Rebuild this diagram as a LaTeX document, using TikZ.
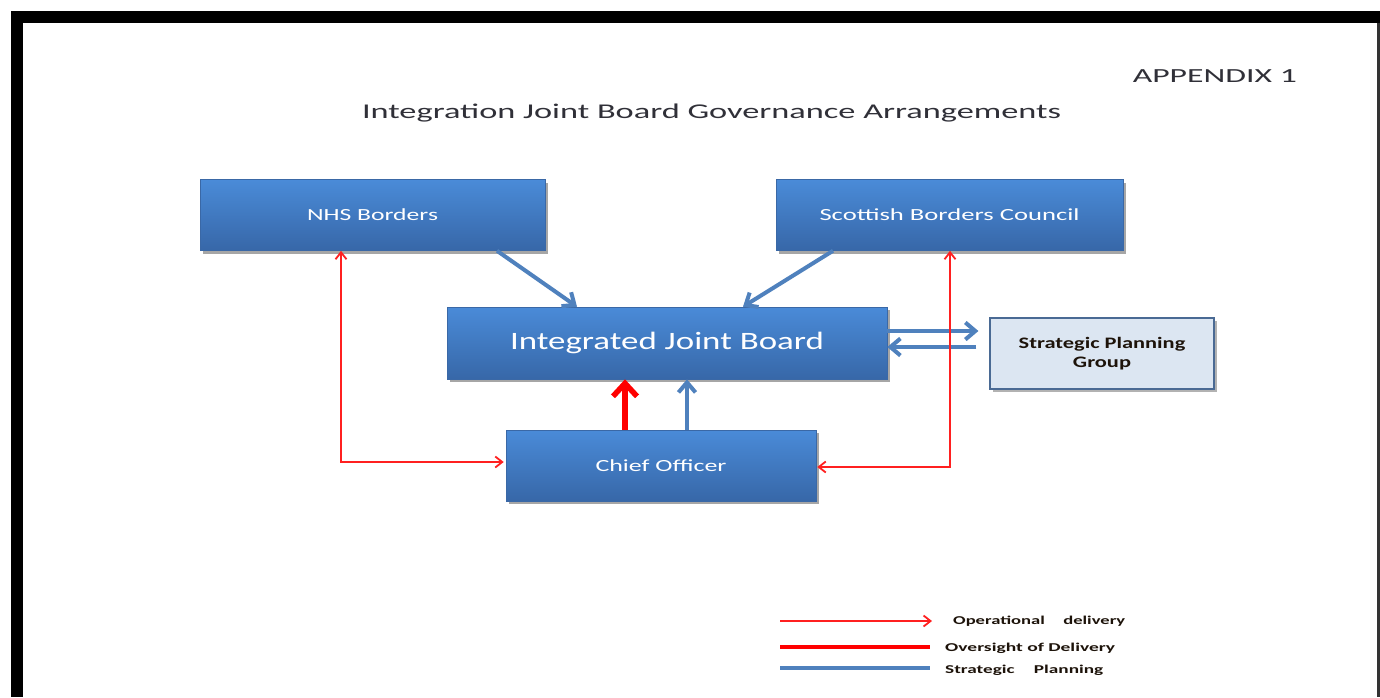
\documentclass[tikz,border=0pt]{standalone}
\usepackage{graphicx}
\usepackage{fontspec}
\setmainfont{Carlito}
\usetikzlibrary{arrows.meta,shadows,calc}
\definecolor{boxtop}{HTML}{4A8BD8}
\definecolor{boxbot}{HTML}{3767A8}
\definecolor{boxedge}{HTML}{3A68A6}
\definecolor{conblue}{HTML}{4F81BD}
\definecolor{spgfill}{HTML}{DCE6F2}
\definecolor{spgedge}{HTML}{4A6A94}
\definecolor{titlecol}{HTML}{303038}
\definecolor{opred}{HTML}{FF2020}
\newcommand{\fitw}[2]{\resizebox{#1}{\height}{#2}}
\tikzset{
  bluebox/.style={draw=boxedge, line width=0.6pt, top color=boxtop, bottom color=boxbot,
    inner sep=0pt, text=white,
    drop shadow={shadow xshift=3pt, shadow yshift=-3pt, fill=black, opacity=0.35}},
  spgbox/.style={draw=spgedge, line width=1.2pt, fill=spgfill, inner sep=0pt,
    minimum width=224pt, minimum height=71pt, text=black!85!brown,
    drop shadow={shadow xshift=3pt, shadow yshift=-3pt, fill=black, opacity=0.3}},
  bluecon/.style={draw=conblue, line width=4pt, -{Straight Barb[length=10pt,width=17pt]}},
  redthin/.style={draw=opred, line width=1.8pt, {Straight Barb[length=7pt,width=11pt]}-{Straight Barb[length=7pt,width=11pt]}},
  redthick/.style={draw=red, line width=5.5pt, -{Straight Barb[length=13pt,width=24pt]}},
  legtext/.style={anchor=west, inner sep=0pt, text=black!85!brown, font=\bfseries\fontsize{12}{12}\selectfont},
}
\begin{document}
\begin{tikzpicture}[x=1pt,y=-1pt]
\useasboundingbox (0,0) rectangle (1380,697);
\fill[white] (0,0) rectangle (1380,697);
% frame
\fill[black] (11,11) rectangle (1380,23);
\fill[black] (11,11) rectangle (23,697);
\fill[black!80] (1377,23) rectangle (1380,697);

% titles
\node[anchor=base east, inner sep=0pt, text=titlecol] (app) at (1297,82)
  {\fitw{164pt}{\fontsize{20}{20}\selectfont APPENDIX 1}};
\node[anchor=base, inner sep=0pt, text=titlecol] (title) at (711.5,118)
  {\fitw{699pt}{\fontsize{21}{21}\selectfont Integration Joint Board Governance Arrangements}};

% boxes
\node[bluebox, minimum width=345pt, minimum height=71pt] (nhs) at (372.5,215)
  {\fitw{131pt}{\fontsize{17}{17}\selectfont NHS Borders}};
\node[bluebox, minimum width=347pt, minimum height=71pt] (sbc) at (949.5,215)
  {\fitw{260pt}{\fontsize{17}{17}\selectfont Scottish Borders Council}};
\node[bluebox, minimum width=440pt, minimum height=72pt] (ijb) at (667,343)
  {\fitw{314pt}{\fontsize{25}{25}\selectfont Integrated Joint Board}};
\node[bluebox, minimum width=310pt, minimum height=71pt] (chief) at (661,465.5)
  {\fitw{131pt}{\fontsize{17}{17}\selectfont Chief Officer}};
\node[spgbox, align=center, font=\bfseries\fontsize{16}{19}\selectfont] (spg) at (1102,353.5)
  {\scalebox{1.4}[1]{Strategic Planning}\\ \scalebox{1.4}[1]{Group}};

% blue connectors
\draw[bluecon] ([xshift=124.5pt]nhs.south) -- ([xshift=-90pt]ijb.north);
\draw[bluecon] ([xshift=-116.5pt]sbc.south) -- ([xshift=76pt]ijb.north);
\draw[bluecon] ([yshift=12pt]ijb.east) -- ([yshift=22.5pt,xshift=-11pt]spg.west);
\draw[bluecon] ([yshift=6.5pt,xshift=-13pt]spg.west) -- ([yshift=-4pt]ijb.east);
\draw[bluecon] ([xshift=26pt]chief.north) -- ([xshift=20pt]ijb.south);
% oversight
\draw[redthick] ([xshift=-36pt]chief.north) -- ([xshift=-42pt]ijb.south);
% operational delivery
\coordinate (cl) at (341,462);
\coordinate (cr) at (950,467);
\draw[redthin] (nhs.south -| cl) -- (cl) -- ([xshift=-2pt]chief.west |- cl);
\draw[redthin] (sbc.south -| cr) -- (cr) -- ([xshift=1pt]chief.east |- cr);

% legend
\coordinate (l1a) at (780,621); \coordinate (l1b) at (932,621);
\coordinate (l2a) at (780,647); \coordinate (l2b) at (930,647);
\coordinate (l3a) at (780,668); \coordinate (l3b) at (930,668);
\draw[draw=opred, line width=1.8pt, -{Straight Barb[length=7pt,width=11pt]}] (l1a) -- (l1b);
\draw[draw=red, line width=4.5pt] (l2a) -- (l2b);
\draw[draw=conblue, line width=3.5pt] (l3a) -- (l3b);
\node[legtext] (lg1) at (953,621) {\fitw{172pt}{Operational\quad delivery}};
\node[legtext] (lg2) at (945,648) {\fitw{170pt}{Oversight of Delivery}};
\node[legtext] (lg3) at (945,670) {\fitw{158pt}{Strategic\quad Planning}};
\end{tikzpicture}
\end{document}
